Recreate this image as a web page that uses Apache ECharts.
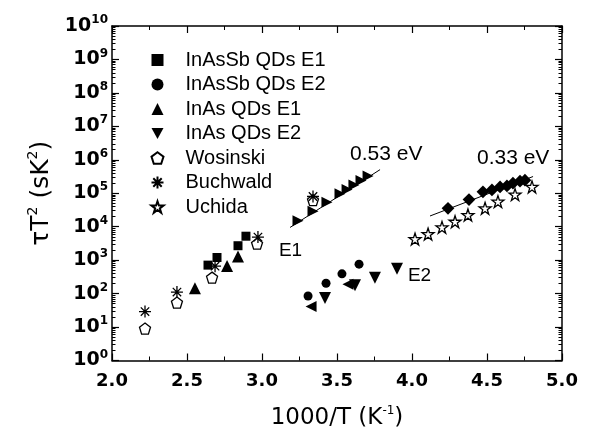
<!DOCTYPE html>
<html>
<head>
<meta charset="utf-8">
<script src="https://cdn.jsdelivr.net/npm/echarts@6/dist/echarts.min.js"></script>
<style>
  html, body { margin: 0; padding: 0; background: #fff; }
  #chart { width: 594px; height: 435px; }
</style>
</head>
<body>
<div id="chart"></div>
<script>
// values: [1000/T, tauT^2]
const inAsSbE1 = [[2.64, 710], [2.70, 1200], [2.84, 2700], [2.893, 5200]];
const inAsSbE2 = [[3.307, 85], [3.427, 204], [3.533, 390], [3.647, 760]];
const inAsE1 = [[2.553, 145], [2.767, 665], [2.84, 1290]];
const inAsE2 = [[3.42, 74], [3.62, 178], [3.753, 300], [3.9, 550]];
const wosinski = [[2.22, 9], [2.433, 54], [2.667, 300], [2.967, 3100], [3.34, 62000]];
const buchwald = [[2.22, 29], [2.433, 111], [2.687, 660], [2.973, 4900], [3.34, 80000]];
const uchida = [[4.02, 4270], [4.107, 6030], [4.2, 9550], [4.287, 14100], [4.373, 22400],
  [4.487, 35500], [4.573, 56200], [4.687, 91200], [4.8, 155000]];
// unlabelled marks (not in legend)
const rightTri = [[3.24, 15000], [3.34, 29000], [3.433, 54000], [3.52, 96000], [3.567, 130000],
  [3.613, 176000], [3.66, 240000], [3.707, 330000]];
const leftTri = [[3.327, 41], [3.573, 190]];
const diamonds = [[4.24, 35500], [4.38, 64600], [4.473, 110000], [4.533, 126000], [4.587, 155000],
  [4.633, 166000], [4.673, 200000], [4.72, 229000], [4.753, 245000]];
// fitted lines
const fit053 = [[3.187, 9500], [3.787, 508000]];
const fit033 = [[4.12, 20900], [4.807, 316000]];
// annotations
const notes = [
  { text: 'E1', pos: [3.113, 1950], size: 19 },
  { text: 'E2', pos: [3.973, 347], size: 19 },
  { text: '0.53 eV', pos: [3.587, 1480000], size: 21 },
  { text: '0.33 eV', pos: [4.433, 1120000], size: 21 }
];
const minorLogTicks = [];
for (let k = 0; k < 10; k++) for (let m = 2; m <= 9; m++) minorLogTicks.push(m * Math.pow(10, k));

const SANS = 'Liberation Sans';
const WIDE = 'DejaVu Sans';
const ink = '#000';

const pentagon = 'path://M5,0 L10,3.63 L8.09,9.51 L1.91,9.51 L0,3.63 Z';
const asterisk = 'path://M5,0 L5,10 M0,5 L10,5 M1.5,1.5 L8.5,8.5 M1.5,8.5 L8.5,1.5';
const star = 'path://M5,0 L6.18,3.6 L9.95,3.6 L6.9,5.85 L8.06,9.5 L5,7.25 L1.94,9.5 L3.1,5.85 L0.05,3.6 L3.82,3.6 Z';
const downTri = 'path://M0,0 L10,0 L5,9 Z';
const rightTriSym = 'path://M0,0 L9,5 L0,10 Z';
const leftTriSym = 'path://M9,0 L0,5 L9,10 Z';

function scatter(name, data, symbol, size, open) {
  return {
    name, type: 'scatter', data, symbol, symbolSize: size, z: 3,
    itemStyle: open
      ? { color: open === 'none' ? 'none' : '#fff', borderColor: ink, borderWidth: 1.3, opacity: 1 }
      : { color: ink, opacity: 1 }
  };
}

const lineAxis = { show: true, onZero: false, lineStyle: { color: ink, width: 1.5 } };
const majorTick = { show: true, inside: true, length: 7, lineStyle: { color: ink, width: 1.2 } };
const minorTickX = { show: true, splitNumber: 2, length: 4, lineStyle: { color: ink, width: 1 } };

const chart = echarts.init(document.getElementById('chart'), null, { renderer: 'canvas' });
chart.setOption({
  backgroundColor: '#fff',
  animation: false,
  grid: { left: 112, right: 32, top: 26, bottom: 62 },
  legend: {
    orient: 'vertical', left: 149, top: 50, padding: 0,
    itemWidth: 12, itemHeight: 12, itemGap: 4.5,
    data: ['InAsSb QDs E1', 'InAsSb QDs E2', 'InAs QDs E1', 'InAs QDs E2', 'Wosinski', 'Buchwald', 'Uchida'],
    textStyle: { fontFamily: SANS, fontSize: 20, color: ink, lineHeight: 20, padding: [0, 0, 0, 17] }
  },
  xAxis: [
    {
      type: 'value', position: 'bottom', min: 2, max: 5, interval: 0.5,
      axisLine: lineAxis, axisTick: majorTick, minorTick: minorTickX, splitLine: { show: false },
      axisLabel: { margin: 12, color: ink, fontFamily: WIDE, fontWeight: 'bold', fontSize: 18,
        formatter: v => v.toFixed(1) },
      name: '{a|1000/T (K}{b|-1}{a|)}', nameLocation: 'middle', nameGap: 44,
      nameTextStyle: { rich: {
        a: { fontFamily: WIDE, fontSize: 23, color: ink, lineHeight: 28 },
        b: { fontFamily: WIDE, fontSize: 12, color: ink, lineHeight: 12, verticalAlign: 'top' }
      } }
    },
    {
      type: 'value', position: 'top', min: 2, max: 5, interval: 0.5,
      axisLine: lineAxis, axisTick: majorTick, minorTick: minorTickX, splitLine: { show: false },
      axisLabel: { show: false }
    }
  ],
  yAxis: [
    {
      type: 'log', logBase: 10, position: 'left', min: 1, max: 1e10, interval: 1,
      axisLine: lineAxis, axisTick: majorTick, splitLine: { show: false },
      axisLabel: {
        margin: 4, color: ink,
        formatter: v => '{b|10}{s|' + Math.round(Math.log10(v)) + '}',
        rich: {
          b: { fontFamily: WIDE, fontWeight: 'bold', fontSize: 19, lineHeight: 24, color: ink },
          s: { fontFamily: WIDE, fontWeight: 'bold', fontSize: 12, lineHeight: 12, verticalAlign: 'top', color: ink }
        }
      },
      name: '{a|τT}{b|2}{a| (sK}{b|2}{a|)}', nameLocation: 'middle', nameGap: 52,
      nameTextStyle: { rich: {
        a: { fontFamily: WIDE, fontSize: 25, color: ink, lineHeight: 30 },
        b: { fontFamily: WIDE, fontSize: 14, color: ink, lineHeight: 14, verticalAlign: 'top' }
      } }
    },
    {
      type: 'log', logBase: 10, position: 'left', min: 1, max: 1e10,
      axisLine: { show: false }, splitLine: { show: false }, axisLabel: { show: false },
      axisTick: { show: true, inside: true, length: 3.5, customValues: minorLogTicks, lineStyle: { color: ink, width: 1 } }
    },
    {
      type: 'log', logBase: 10, position: 'right', min: 1, max: 1e10, interval: 1,
      axisLine: lineAxis, axisTick: majorTick, splitLine: { show: false }, axisLabel: { show: false }
    },
    {
      type: 'log', logBase: 10, position: 'right', min: 1, max: 1e10,
      axisLine: { show: false }, splitLine: { show: false }, axisLabel: { show: false },
      axisTick: { show: true, inside: true, length: 3.5, customValues: minorLogTicks, lineStyle: { color: ink, width: 1 } }
    }
  ],
  series: [
    { name: 'fit053', type: 'line', data: fit053, showSymbol: false, z: 2,
      lineStyle: { color: ink, width: 1 } },
    { name: 'fit033', type: 'line', data: fit033, showSymbol: false, z: 2,
      lineStyle: { color: ink, width: 1 } },
    scatter('InAsSb QDs E1', inAsSbE1, 'rect', 9),
    scatter('InAsSb QDs E2', inAsSbE2, 'circle', 9),
    scatter('InAs QDs E1', inAsE1, 'triangle', 12),
    scatter('InAs QDs E2', inAsE2, downTri, 12),
    scatter('Wosinski', wosinski, pentagon, 11, true),
    scatter('Buchwald', buchwald, asterisk, 12, 'none'),
    scatter('Uchida', uchida, star, 12, true),
    scatter('rightTri', rightTri, rightTriSym, 11),
    scatter('leftTri', leftTri, leftTriSym, 11),
    Object.assign(scatter('diamond', diamonds, 'rect', 9), { symbolRotate: 45 }),
    {
      name: 'notes', type: 'scatter', symbolSize: 0, z: 4,
      itemStyle: { opacity: 1 },
      data: notes.map(n => ({
        value: n.pos,
        label: { show: true, position: 'right', distance: 0, formatter: n.text,
          fontFamily: SANS, fontSize: n.size, color: ink, opacity: 1 }
      }))
    }
  ]
});
</script>
</body>
</html>
